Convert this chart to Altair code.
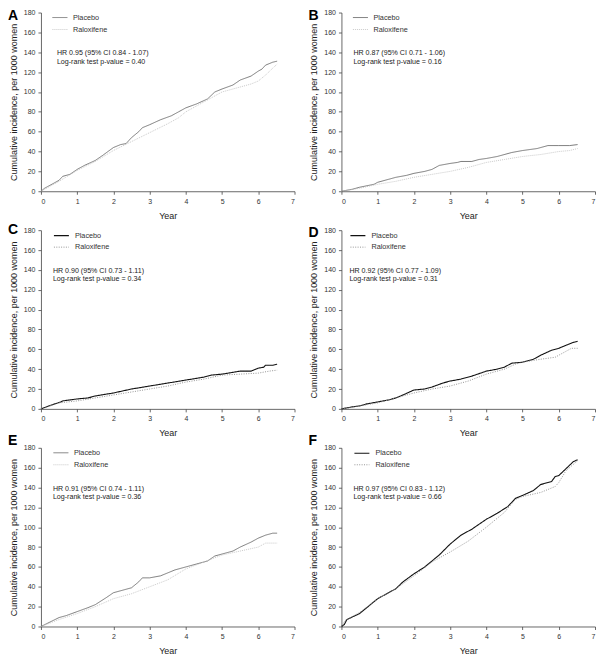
import altair as alt
import pandas as pd

# ---------------- data ----------------
A_PLA_X = [0, 0.1, 0.25, 0.5, 0.6, 0.8, 1.0, 1.2, 1.5, 1.7, 2.0, 2.2, 2.35, 2.5, 2.7, 2.8, 3.0, 3.3, 3.6, 3.8, 4.0, 4.3, 4.6, 4.8, 5.0, 5.3, 5.5, 5.8, 6.0, 6.1, 6.2, 6.4, 6.52]
A_PLA_Y = [0, 3, 6, 11, 15, 17, 22, 26, 31, 36, 44, 47, 48, 54, 60, 64, 67, 72, 76, 80, 84, 88, 93, 100, 103, 107, 112, 116, 121, 123, 127, 130, 131]
A_RAL_X = [0, 0.25, 0.5, 1.0, 1.5, 2.0, 2.5, 3.0, 3.5, 3.8, 4.0, 4.5, 5.0, 5.5, 5.8, 6.0, 6.2, 6.4, 6.52]
A_RAL_Y = [0, 5, 10, 21, 30, 41, 50, 59, 68, 74, 80, 90, 100, 105, 108, 111, 117, 124, 128]

B_PLA_X = [0, 0.3, 0.5, 0.9, 1.0, 1.3, 1.5, 1.8, 2.0, 2.3, 2.5, 2.7, 3.0, 3.2, 3.3, 3.6, 3.8, 4.0, 4.3, 4.7, 5.0, 5.4, 5.7, 6.0, 6.3, 6.52]
B_PLA_Y = [0, 2, 4, 7, 9, 12, 14, 16, 18, 20, 22, 26, 28, 29, 30, 30, 32, 33, 35, 39, 41, 43, 46, 46, 46, 47]
B_RAL_X = [0, 0.5, 1.0, 1.5, 2.0, 2.5, 3.0, 3.5, 4.0, 4.5, 5.0, 5.5, 6.0, 6.3, 6.52]
B_RAL_Y = [0, 3, 7, 10, 14, 17, 20, 24, 29, 32, 35, 37, 40, 41, 43]

C_PLA_X = [0, 0.3, 0.55, 0.6, 1.0, 1.3, 1.5, 2.0, 2.5, 3.0, 3.5, 4.0, 4.5, 4.7, 5.0, 5.5, 5.8, 6.0, 6.15, 6.2, 6.4, 6.52]
C_PLA_Y = [0, 4, 7, 8, 10, 11, 13, 16, 20, 23, 26, 29, 32, 34, 35, 38, 38, 41, 42, 44, 44, 45]
C_RAL_X = [0, 0.5, 1.0, 1.5, 2.0, 2.5, 3.0, 3.5, 4.0, 4.5, 5.0, 5.5, 6.0, 6.3, 6.52]
C_RAL_Y = [0, 6, 8, 11, 14, 17, 20, 23, 27, 30, 34, 35, 36, 38, 39]

D_PLA_X = [0, 0.3, 0.5, 0.7, 1.0, 1.3, 1.5, 1.7, 2.0, 2.3, 2.5, 2.8, 3.0, 3.3, 3.6, 4.0, 4.3, 4.5, 4.7, 5.0, 5.3, 5.5, 5.8, 6.0, 6.2, 6.4, 6.52]
D_PLA_Y = [0, 2, 3, 5, 7, 9, 11, 14, 19, 20, 22, 26, 28, 30, 33, 38, 40, 42, 46, 47, 50, 54, 59, 61, 64, 67, 68]
D_RAL_X = [0, 0.5, 1.0, 1.5, 2.0, 2.5, 3.0, 3.5, 4.0, 4.5, 4.8, 5.0, 5.5, 5.9, 6.0, 6.2, 6.35, 6.52]
D_RAL_Y = [0, 3, 6, 11, 16, 20, 23, 28, 35, 40, 45, 47, 50, 52, 54, 58, 61, 61]

E_PLA_X = [0, 0.5, 0.7, 1.0, 1.3, 1.5, 1.8, 2.0, 2.2, 2.5, 2.7, 2.8, 3.0, 3.3, 3.5, 3.7, 4.0, 4.3, 4.6, 4.8, 5.0, 5.3, 5.5, 5.8, 6.0, 6.2, 6.4, 6.52]
E_PLA_Y = [0, 9, 11, 15, 19, 22, 29, 34, 36, 39, 45, 49, 49, 51, 54, 57, 60, 63, 66, 71, 73, 76, 80, 85, 89, 92, 94, 94]
E_RAL_X = [0, 0.5, 1.0, 1.5, 2.0, 2.5, 3.0, 3.5, 4.0, 4.5, 5.0, 5.5, 6.0, 6.2, 6.52]
E_RAL_Y = [0, 7, 13, 20, 28, 33, 40, 47, 58, 65, 72, 76, 80, 84, 84]

F_PLA_X = [0, 0.08, 0.15, 0.5, 0.7, 1.0, 1.3, 1.5, 1.7, 2.0, 2.3, 2.7, 3.0, 3.3, 3.6, 4.0, 4.3, 4.6, 4.8, 5.0, 5.3, 5.5, 5.8, 5.9, 6.0, 6.2, 6.4, 6.52]
F_PLA_Y = [0, 2, 7, 13, 19, 28, 34, 38, 45, 53, 60, 72, 83, 92, 98, 108, 114, 121, 129, 132, 137, 143, 146, 151, 152, 159, 166, 168]
F_RAL_X = [0, 0.1, 0.5, 1.0, 1.5, 2.0, 2.5, 3.0, 3.5, 4.0, 4.5, 4.8, 5.0, 5.5, 5.9, 6.0, 6.2, 6.52]
F_RAL_Y = [0, 6, 14, 28, 38, 51, 65, 75, 86, 100, 115, 128, 131, 135, 141, 145, 157, 167]

HR_TEXT = {
    "A": ["HR 0.95 (95% CI 0.84 - 1.07)", "Log-rank test p-value = 0.40"],
    "B": ["HR 0.87 (95% CI 0.71 - 1.06)", "Log-rank test p-value = 0.16"],
    "C": ["HR 0.90 (95% CI 0.73 - 1.11)", "Log-rank test p-value = 0.34"],
    "D": ["HR 0.92 (95% CI 0.77 - 1.09)", "Log-rank test p-value = 0.31"],
    "E": ["HR 0.91 (95% CI 0.74 - 1.11)", "Log-rank test p-value = 0.36"],
    "F": ["HR 0.97 (95% CI 0.83 - 1.12)", "Log-rank test p-value = 0.66"],
}
GROUPS = ["Placebo", "Raloxifene"]
X_TICKS = [0, 1, 2, 3, 4, 5, 6, 7]
Y_TICKS = [0, 20, 40, 60, 80, 100, 120, 140, 160, 180]

SERIES = {
    "A": (A_PLA_X, A_PLA_Y, A_RAL_X, A_RAL_Y),
    "B": (B_PLA_X, B_PLA_Y, B_RAL_X, B_RAL_Y),
    "C": (C_PLA_X, C_PLA_Y, C_RAL_X, C_RAL_Y),
    "D": (D_PLA_X, D_PLA_Y, D_RAL_X, D_RAL_Y),
    "E": (E_PLA_X, E_PLA_Y, E_RAL_X, E_RAL_Y),
    "F": (F_PLA_X, F_PLA_Y, F_RAL_X, F_RAL_Y),
}

# ---------------- styling / layout ----------------
DARK = {"A": False, "B": False, "C": True, "D": True, "E": False, "F": True}
LEG_X = {"A": 11, "B": 11, "C": 12, "D": 8, "E": 12, "F": 12}
ANN_X = {"A": 16, "B": 12, "C": 12, "D": 8, "E": 12, "F": 12}
LET_Y = {"A": 3, "B": 3, "C": 0, "D": 3, "E": -7, "F": -7}
FONT = "Liberation Sans"
W, H = 254, 179


def panel(key):
    px, py, rx, ry = SERIES[key]
    df = pd.DataFrame({
        "year": list(px) + list(rx),
        "inc": list(py) + list(ry),
        "group": [GROUPS[0]] * len(px) + [GROUPS[1]] * len(rx),
    })
    if DARK[key]:
        colors = ["#111111", "#8a8a8a"]
        widths = [1.1, 0.9]
        dashes = [[1, 0], [1, 1.4]]
    else:
        colors = ["#5a5a5a", "#bdbdbd"]
        widths = [0.8, 0.8]
        dashes = [[1, 0], [1, 1]]
    leg = dict(title=None, orient="none", legendX=LEG_X[key], legendY=-3,
               symbolType="stroke", symbolSize=225, labelFontSize=7.3,
               labelFont=FONT, labelColor="#333333", labelOffset=5,
               rowPadding=-6, padding=0)
    lines = alt.Chart(df).mark_line().encode(
        x=alt.X("year:Q", scale=alt.Scale(domain=[0, 7], nice=False),
                axis=alt.Axis(values=X_TICKS, title="Year", titlePadding=7)),
        y=alt.Y("inc:Q", scale=alt.Scale(domain=[0, 180], nice=False),
                axis=alt.Axis(values=Y_TICKS, title="Cumulative incidence, per 1000 women",
                              titlePadding=5)),
        color=alt.Color("group:N", scale=alt.Scale(domain=GROUPS, range=colors),
                        legend=alt.Legend(**leg)),
        strokeDash=alt.StrokeDash("group:N", scale=alt.Scale(domain=GROUPS, range=dashes),
                                  legend=alt.Legend(**leg)),
        strokeWidth=alt.StrokeWidth("group:N", scale=alt.Scale(domain=GROUPS, range=widths),
                                    legend=alt.Legend(**leg)),
        order="year:Q",
    )
    one = pd.DataFrame({"k": [0]})
    ann = alt.Chart(one).mark_text(
        align="left", baseline="middle", fontSize=7.1, lineHeight=8.3,
        font=FONT, color="#222222"
    ).encode(x=alt.value(ANN_X[key]), y=alt.value(41), text=alt.value(HR_TEXT[key]))
    letter = alt.Chart(one).mark_text(
        align="left", baseline="middle", fontSize=14, fontWeight="bold",
        font=FONT, color="#000000"
    ).encode(x=alt.value(-33), y=alt.value(LET_Y[key]), text=alt.value(key))
    return alt.layer(lines, ann, letter).properties(width=W, height=H)


res = dict(color="independent", strokeDash="independent", strokeWidth="independent")
chart = alt.concat(
    *[panel(k) for k in ["A", "B", "C", "D", "E", "F"]],
    columns=2, spacing={"row": 39, "column": 47}, bounds="flush",
).resolve_scale(**res).properties(
    padding={"left": 0, "top": 0, "right": 0, "bottom": 0}
).configure_view(stroke=None).configure_axis(
    grid=False, domainColor="#444444", tickColor="#444444", tickSize=3,
    labelFont=FONT, labelFontSize=7, labelColor="#333333", labelPadding=3,
    titleFont=FONT, titleFontSize=9.0, titleFontWeight="normal", titleColor="#222222",
    domainWidth=0.8, tickWidth=0.8,
)

chart.save("out.html", embed_options={"renderer": "svg", "actions": False})
